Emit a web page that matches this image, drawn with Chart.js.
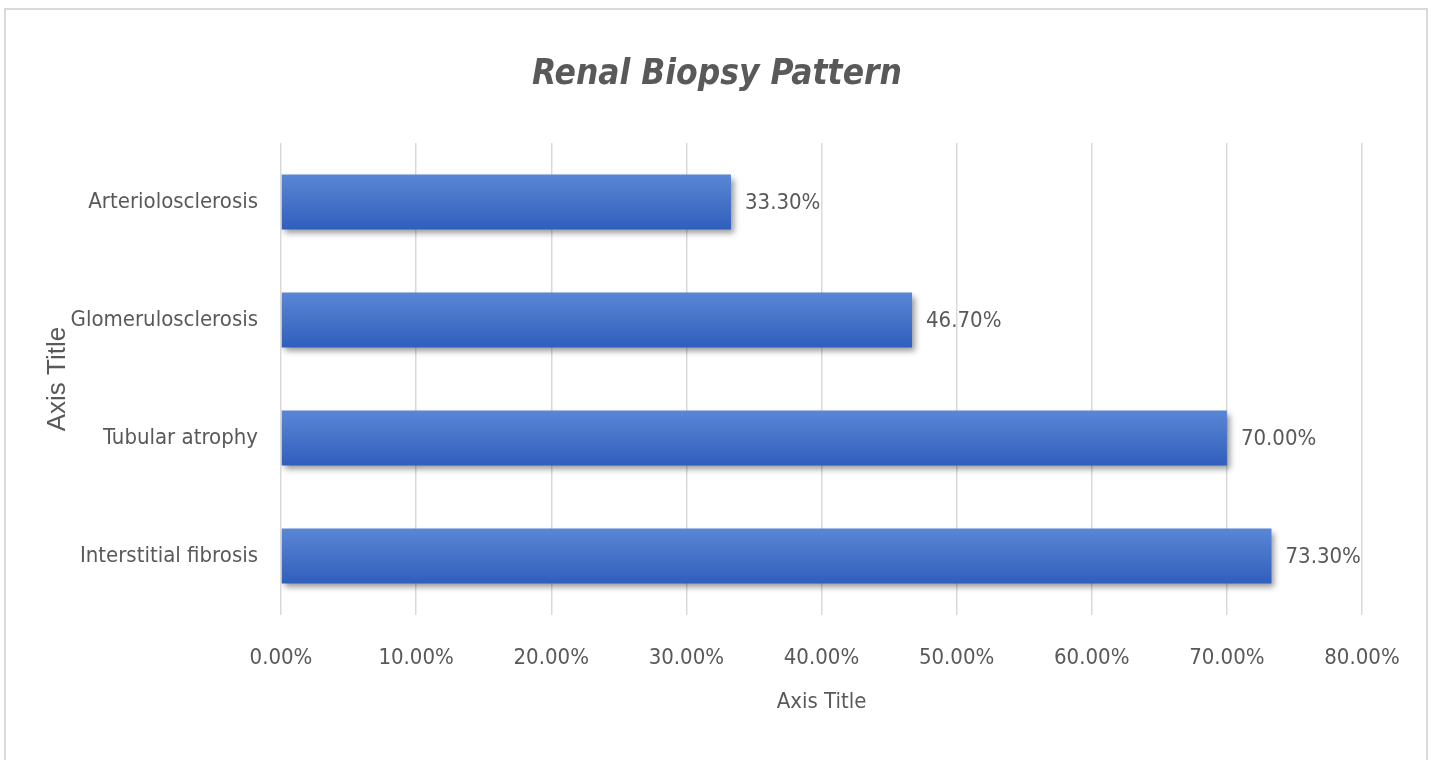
<!DOCTYPE html>
<html>
<head>
<meta charset="utf-8">
<script src="https://cdn.jsdelivr.net/npm/chart.js@4.4.1/dist/chart.umd.min.js"></script>
<style>
  html, body { margin: 0; padding: 0; background: #fff; width: 1434px; height: 760px; overflow: hidden; }
  #frame { position: absolute; left: 4px; top: 8px; width: 1424px; height: 800px; border: 2px solid #d9d9d9; box-sizing: border-box; }
  #c { position: absolute; left: 0; top: 0; }
</style>
</head>
<body>
<div id="frame"></div>
<canvas id="c" width="1434" height="760"></canvas>
<script>
const categories = ["Arteriolosclerosis", "Glomerulosclerosis", "Tubular atrophy", "Interstitial fibrosis"];
const percentValues = [33.3, 46.7, 70.0, 73.3];
const axisMin = 0;
const axisMax = 80;
const axisStep = 10;
const chartTitle = "Renal Biopsy Pattern";
const xAxisTitle = "Axis Title";
const yAxisTitle = "Axis Title";

const FONT = "'Liberation Sans Narrow', 'DejaVu Sans Condensed', 'Open Sans', sans-serif";
const GREY = "#595959";
const BAR_PCT = 0.466;

const barGradient = (context) => {
  const chart = context.chart;
  const area = chart.chartArea;
  const yScale = chart.scales && chart.scales.y;
  if (!area || !yScale || context.dataIndex === undefined) return "#4472c4";
  const cy = yScale.getPixelForValue(context.dataIndex);
  const half = (area.bottom - area.top) / categories.length * BAR_PCT / 2;
  const g = chart.ctx.createLinearGradient(0, cy - half, 0, cy + half);
  g.addColorStop(0, "#5a86d6");
  g.addColorStop(0.5, "#4673c8");
  g.addColorStop(1, "#2f5ebd");
  return g;
};

const shadowPlugin = {
  id: "barShadow",
  beforeDatasetsDraw(chart) {
    const ctx = chart.ctx;
    ctx.save();
    ctx.shadowColor = "rgba(0,0,0,0.4)";
    ctx.shadowBlur = 6;
    ctx.shadowOffsetX = 3;
    ctx.shadowOffsetY = 4;
  },
  afterDatasetsDraw(chart) {
    chart.ctx.restore();
  }
};

const labelPlugin = {
  id: "valueLabels",
  afterDatasetsDraw(chart) {
    const ctx = chart.ctx;
    const meta = chart.getDatasetMeta(0);
    ctx.save();
    ctx.font = "22px " + FONT;
    ctx.fillStyle = GREY;
    ctx.textAlign = "left";
    ctx.textBaseline = "middle";
    meta.data.forEach((bar, i) => {
      const v = chart.data.datasets[0].data[i];
      ctx.fillText(v.toFixed(2) + "%", bar.x + 14, bar.y + 1);
    });
    ctx.restore();
  }
};

const titlePlugin = {
  id: "centeredTitle",
  afterDraw(chart) {
    const ctx = chart.ctx;
    ctx.save();
    ctx.font = "italic bold 35px " + FONT;
    ctx.fillStyle = GREY;
    ctx.textAlign = "center";
    ctx.textBaseline = "middle";
    ctx.fillText(chartTitle, 717, 75);
    ctx.restore();
  }
};

new Chart(document.getElementById("c"), {
  type: "bar",
  data: {
    labels: categories,
    datasets: [{
      data: percentValues,
      backgroundColor: barGradient,
      borderWidth: 0,
      barPercentage: BAR_PCT,
      categoryPercentage: 1.0
    }]
  },
  plugins: [shadowPlugin, labelPlugin, titlePlugin],
  options: {
    indexAxis: "y",
    responsive: false,
    devicePixelRatio: 1,
    animation: false,
    layout: { padding: { left: 0, right: 72, top: 143, bottom: 0 } },
    plugins: {
      legend: { display: false },
      tooltip: { enabled: false },
      title: { display: false }
    },
    scales: {
      x: {
        min: axisMin,
        max: axisMax,
        ticks: {
          stepSize: axisStep,
          color: GREY,
          font: { family: FONT, size: 22 },
          padding: 30,
          maxRotation: 0,
          callback: (v) => Number(v).toFixed(2) + "%"
        },
        grid: { color: "#d9d9d9", lineWidth: 1.5, drawTicks: false },
        border: { display: false },
        title: {
          display: true,
          text: xAxisTitle,
          color: GREY,
          font: { family: FONT, size: 22 },
          padding: { top: 0, bottom: 45 }
        },
        afterFit(scale) { scale.height = 145; }
      },
      y: {
        ticks: {
          color: GREY,
          font: { family: FONT, size: 22 },
          padding: 23
        },
        grid: { display: false, drawTicks: false },
        border: { display: false },
        title: {
          display: true,
          text: yAxisTitle,
          color: GREY,
          font: { family: "'Liberation Sans', 'DejaVu Sans', sans-serif", size: 26 },
          padding: { top: 42, bottom: 0 }
        },
        afterFit(scale) { scale.width = 281; }
      }
    }
  }
});
</script>
</body>
</html>
